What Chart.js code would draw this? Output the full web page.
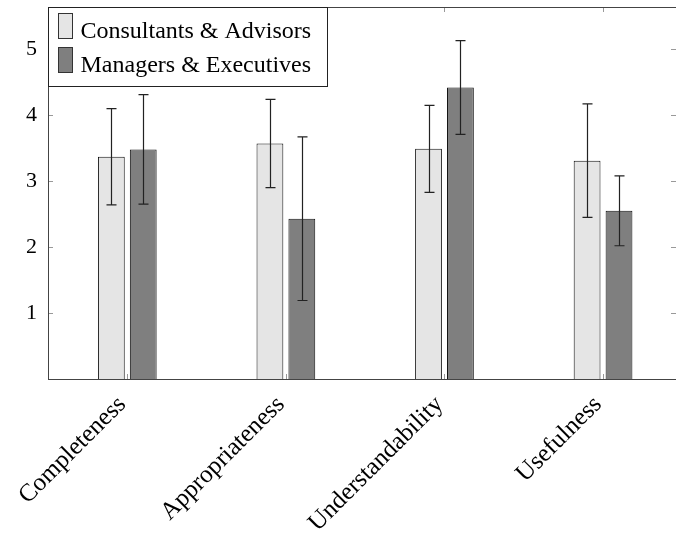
<!DOCTYPE html>
<html>
<head>
<meta charset="utf-8">
<title>Evaluation ratings by respondent group</title>
<script src="https://cdn.jsdelivr.net/npm/chart.js@4/dist/chart.umd.min.js"></script>
<style>
  html, body { margin: 0; padding: 0; background: #fff; overflow: hidden; }
  #wrap { width: 676px; height: 538px; position: relative; }
</style>
</head>
<body>
<div id="wrap"><canvas id="chart"></canvas></div>
<script>
// Rating criteria (x axis)
const categories = ['Completeness', 'Appropriateness', 'Understandability', 'Usefulness'];

// Mean scores and their error (± half-range) per group
const consultants    = [3.37, 3.57, 3.49, 3.31];
const consultantsErr = [0.73, 0.67, 0.66, 0.86];
const managers       = [3.48, 2.43, 4.42, 2.55];
const managersErr    = [0.83, 1.24, 0.71, 0.53];

// Y axis tick values
const yTicks = [1, 2, 3, 4, 5];

const seriesNames = ['Consultants & Advisors', 'Managers & Executives'];
const FONT = '"Liberation Serif", "Times New Roman", serif';

const toPoints = vals => vals.map((v, i) => ({ x: i, y: v }));

// Error bars: vertical whisker with short caps, drawn through the y scale
const errorBars = {
  id: 'errorBars',
  afterDatasetsDraw(chart) {
    const ctx = chart.ctx;
    const y = chart.scales.y;
    chart.data.datasets.forEach((ds, di) => {
      const meta = chart.getDatasetMeta(di);
      meta.data.forEach((bar, i) => {
        const v = ds.data[i].y, e = ds.errors[i];
        const top = y.getPixelForValue(v + e);
        const bot = y.getPixelForValue(v - e);
        const cx = Math.round(bar.x) + 0.5;
        ctx.save();
        ctx.strokeStyle = '#222';
        ctx.lineWidth = 1.2;
        ctx.beginPath();
        ctx.moveTo(cx, top); ctx.lineTo(cx, bot);
        ctx.moveTo(cx - 5, top); ctx.lineTo(cx + 5, top);
        ctx.moveTo(cx - 5, bot); ctx.lineTo(cx + 5, bot);
        ctx.stroke();
        ctx.restore();
      });
    });
  }
};

// Box frame with inward tick marks on all four sides
const frame = {
  id: 'frame',
  afterDatasetsDraw(chart) {
    const { ctx, chartArea: a, scales } = chart;
    ctx.save();
    ctx.strokeStyle = '#999';
    ctx.lineWidth = 1;
    ctx.beginPath();
    yTicks.forEach(t => {
      const py = Math.round(scales.y.getPixelForValue(t)) + 0.5;
      ctx.moveTo(a.left, py); ctx.lineTo(a.left + 5, py);
      ctx.moveTo(a.right, py); ctx.lineTo(a.right - 5, py);
    });
    categories.forEach((c, i) => {
      const px = Math.round(scales.x.getPixelForValue(i)) + 0.5;
      ctx.moveTo(px, a.bottom); ctx.lineTo(px, a.bottom - 5);
      ctx.moveTo(px, a.top); ctx.lineTo(px, a.top + 5);
    });
    ctx.stroke();
    ctx.strokeStyle = '#444';
    ctx.lineWidth = 1;
    ctx.strokeRect(Math.round(a.left) + 0.5, Math.round(a.top) + 0.5,
                   Math.round(a.right - a.left), Math.round(a.bottom - a.top));
    ctx.restore();
  }
};

// Boxed legend in the upper-left corner of the plot
const boxLegend = {
  id: 'boxLegend',
  afterDraw(chart) {
    const { ctx, chartArea: a } = chart;
    const x0 = Math.round(a.left) + 0.5, y0 = Math.round(a.top) + 0.5;
    const w = 279, h = 79;
    ctx.save();
    ctx.fillStyle = '#fff';
    ctx.fillRect(x0, y0, w, h);
    ctx.strokeStyle = '#222';
    ctx.lineWidth = 1;
    ctx.strokeRect(x0, y0, w, h);
    ctx.font = '24px ' + FONT;
    ctx.textBaseline = 'alphabetic';
    chart.data.datasets.forEach((ds, i) => {
      const sy = y0 + 6 + i * 34;
      ctx.fillStyle = ds.backgroundColor;
      ctx.fillRect(x0 + 10, sy, 14, 25);
      ctx.strokeStyle = '#333';
      ctx.strokeRect(x0 + 10, sy, 14, 25);
      ctx.fillStyle = '#000';
      ctx.fillText(ds.label, x0 + 32, sy + 24);
    });
    ctx.restore();
  }
};

new Chart(document.getElementById('chart'), {
  type: 'bar',
  data: {
    datasets: [
      {
        label: seriesNames[0],
        data: toPoints(consultants),
        errors: consultantsErr,
        backgroundColor: '#e5e5e5',
        borderColor: '#111',
        borderWidth: 1
      },
      {
        label: seriesNames[1],
        data: toPoints(managers),
        errors: managersErr,
        backgroundColor: '#7f7f7f',
        borderColor: '#111',
        borderWidth: 1
      }
    ]
  },
  options: {
    responsive: true,
    maintainAspectRatio: false,
    animation: false,
    categoryPercentage: 0.4025,
    barPercentage: 0.84,
    layout: { padding: { top: 7, right: -2, left: 0, bottom: 0 } },
    plugins: {
      legend: { display: false },
      tooltip: { enabled: false }
    },
    scales: {
      x: {
        type: 'linear',
        min: -0.5,
        max: 3.46,
        offset: false,
        grid: { display: false },
        border: { display: false },
        afterBuildTicks: axis => { axis.ticks = categories.map((c, i) => ({ value: i })); },
        afterFit: axis => { axis.height = 159; axis.paddingLeft = 0; axis.paddingRight = 0; },
        ticks: {
          autoSkip: false,
          minRotation: 45,
          maxRotation: 45,
          padding: 3,
          labelOffset: -5,
          color: '#000',
          font: { family: FONT, size: 25 },
          callback: v => categories[v]
        }
      },
      y: {
        min: 0,
        max: 5.64,
        grid: { display: false, drawTicks: false },
        border: { display: false },
        afterBuildTicks: axis => { axis.ticks = yTicks.map(v => ({ value: v })); },
        afterFit: axis => { axis.width = 48; axis.paddingTop = 0; axis.paddingBottom = 0; },
        ticks: {
          padding: 11,
          color: '#000',
          font: { family: FONT, size: 22 }
        }
      }
    }
  },
  plugins: [errorBars, frame, boxLegend]
});
</script>
</body>
</html>
